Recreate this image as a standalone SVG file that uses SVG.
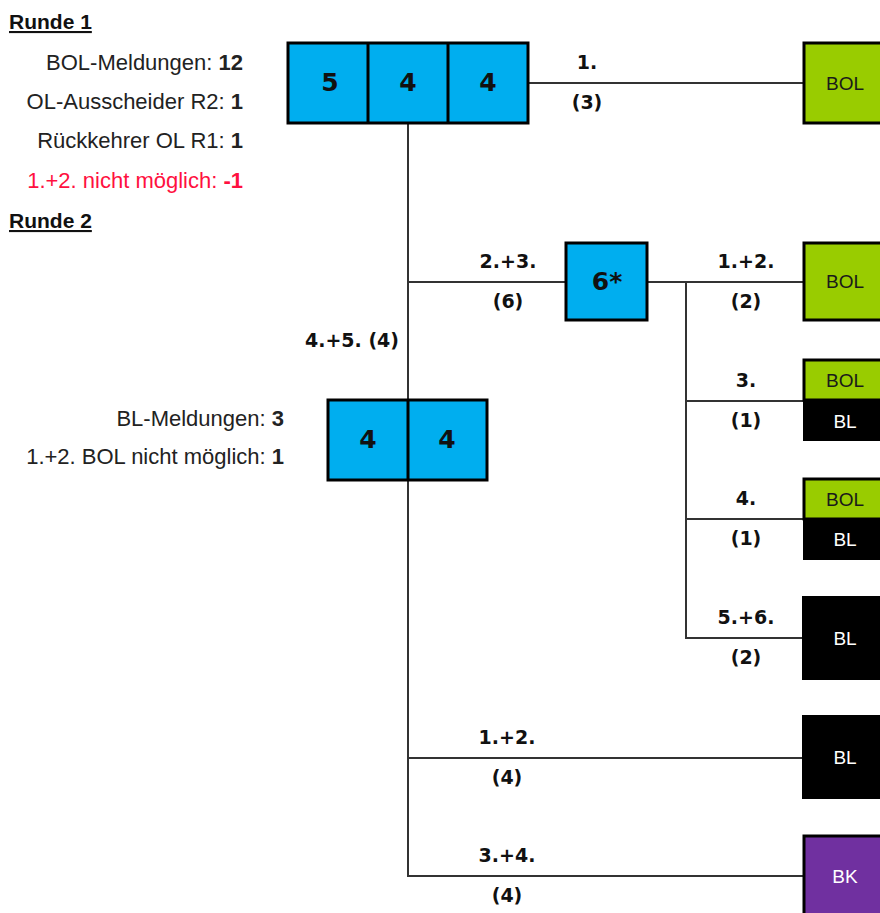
<svg xmlns="http://www.w3.org/2000/svg" width="880" height="913" viewBox="0 0 880 913">
<style>
.info{font-family:"Liberation Sans",Arial,sans-serif;font-size:22px;fill:#222;text-anchor:end}
.info tspan.b{font-weight:bold}
.head{font-family:"Liberation Sans",Arial,sans-serif;font-size:21px;font-weight:bold;fill:#111;text-decoration:underline}
.red{fill:#FF1040}
.lbl{font-family:"DejaVu Sans",Verdana,sans-serif;font-size:19px;font-weight:bold;fill:#111;text-anchor:middle}
.num{font-family:"DejaVu Sans",Verdana,sans-serif;font-size:25px;font-weight:bold;fill:#111;text-anchor:middle}
.blue{fill:#00AEEF;stroke:#000;stroke-width:3}
.green{fill:#99CC00;stroke:#000;stroke-width:3}
.black{fill:#000;stroke:#000;stroke-width:2}
.purple{fill:#7030A0;stroke:#000;stroke-width:3}
.tag{font-family:"Liberation Sans",Arial,sans-serif;font-size:19px;text-anchor:middle}
.dark{fill:#1a1a1a}
.light{fill:#fff}
.conn line{stroke:#333;stroke-width:2}
</style>

<g id="legend">
<text class="head" x="9" y="29">Runde 1</text>
<text class="info" x="243" y="70">BOL-Meldungen: <tspan class="b">12</tspan></text>
<text class="info" x="243" y="109">OL-Ausscheider R2: <tspan class="b">1</tspan></text>
<text class="info" x="243" y="148">Rückkehrer OL R1: <tspan class="b">1</tspan></text>
<text class="info red" x="243" y="188">1.+2. nicht möglich: <tspan class="b">-1</tspan></text>
<text class="head" x="9" y="228">Runde 2</text>
<text class="info" x="284" y="426">BL-Meldungen: <tspan class="b">3</tspan></text>
<text class="info" x="284" y="464">1.+2. BOL nicht möglich: <tspan class="b">1</tspan></text>
</g>

<g class="conn" id="connectors">
<line x1="408" y1="123" x2="408" y2="877"/>
<line x1="528" y1="83" x2="804" y2="83"/>
<line x1="408" y1="282" x2="566" y2="282"/>
<line x1="647" y1="282" x2="804" y2="282"/>
<line x1="686" y1="282" x2="686" y2="639"/>
<line x1="686" y1="401" x2="804" y2="401"/>
<line x1="686" y1="519" x2="804" y2="519"/>
<line x1="686" y1="638" x2="804" y2="638"/>
<line x1="408" y1="758" x2="804" y2="758"/>
<line x1="408" y1="876" x2="804" y2="876"/>
</g>

<g id="labels">
<text class="lbl" x="587" y="69">1.</text>
<text class="lbl" x="587" y="109">(3)</text>
<text class="lbl" x="508" y="268">2.+3.</text>
<text class="lbl" x="508" y="308">(6)</text>
<text class="lbl" x="746" y="268">1.+2.</text>
<text class="lbl" x="746" y="308">(2)</text>
<text class="lbl" x="352" y="347">4.+5. (4)</text>
<text class="lbl" x="746" y="387">3.</text>
<text class="lbl" x="746" y="427">(1)</text>
<text class="lbl" x="746" y="505">4.</text>
<text class="lbl" x="746" y="545">(1)</text>
<text class="lbl" x="746" y="624">5.+6.</text>
<text class="lbl" x="746" y="664">(2)</text>
<text class="lbl" x="507" y="744">1.+2.</text>
<text class="lbl" x="507" y="784">(4)</text>
<text class="lbl" x="507" y="862">3.+4.</text>
<text class="lbl" x="507" y="902">(4)</text>
</g>

<g id="pot-r1">
<rect class="blue" x="288" y="43" width="240" height="80"/>
<line x1="368" y1="43" x2="368" y2="123" stroke="#000" stroke-width="3"/>
<line x1="448" y1="43" x2="448" y2="123" stroke="#000" stroke-width="3"/>
<text class="num" x="330" y="91">5</text>
<text class="num" x="408" y="91">4</text>
<text class="num" x="488" y="91">4</text>
</g>

<g id="pot-6">
<rect class="blue" x="566" y="243" width="81" height="77"/>
<text class="num" x="607" y="290">6*</text>
</g>

<g id="pot-r2">
<rect class="blue" x="328" y="400" width="159" height="80"/>
<line x1="408" y1="400" x2="408" y2="480" stroke="#000" stroke-width="3"/>
<text class="num" x="368" y="448">4</text>
<text class="num" x="447" y="448">4</text>
</g>

<g id="bol-1">
<rect class="green" x="804" y="43" width="90" height="80"/>
<text class="tag dark" x="845" y="90">BOL</text>
</g>

<g id="bol-2">
<rect class="green" x="804" y="243" width="90" height="77"/>
<text class="tag dark" x="845" y="288">BOL</text>
</g>

<g id="bol-bl-3">
<rect fill="#000" x="803" y="400" width="90" height="41"/>
<rect class="green" x="804" y="360" width="90" height="40"/>
<text class="tag dark" x="845" y="387">BOL</text>
<text class="tag light" x="845" y="428">BL</text>
</g>

<g id="bol-bl-4">
<rect fill="#000" x="803" y="519" width="90" height="41"/>
<rect class="green" x="804" y="479" width="90" height="40"/>
<text class="tag dark" x="845" y="506">BOL</text>
<text class="tag light" x="845" y="546">BL</text>
</g>

<g id="bl-5">
<rect class="black" x="803" y="597" width="90" height="82"/>
<text class="tag light" x="845" y="645">BL</text>
</g>

<g id="bl-r2">
<rect class="black" x="803" y="716" width="90" height="82"/>
<text class="tag light" x="845" y="764">BL</text>
</g>

<g id="bk-r2">
<rect class="purple" x="804" y="836" width="90" height="90"/>
<text class="tag light" x="845" y="883">BK</text>
</g>
</svg>
